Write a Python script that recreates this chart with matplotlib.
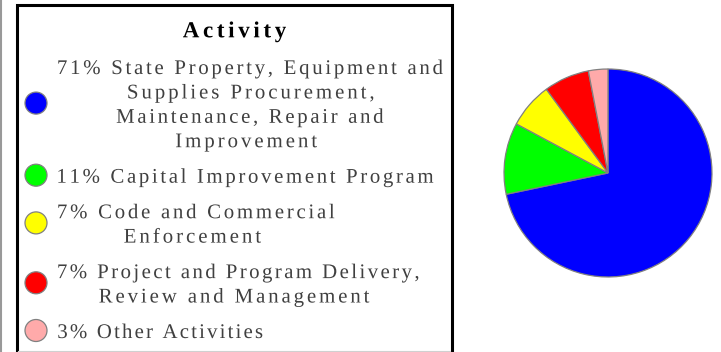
import matplotlib
matplotlib.use("Agg")
import matplotlib.pyplot as plt
from matplotlib.font_manager import FontProperties, findfont
from matplotlib.ft2font import FT2Font
from matplotlib.patches import Rectangle, Circle, PathPatch
from matplotlib.textpath import TextPath
from matplotlib.transforms import Affine2D

W, H, DPI = 721, 352, 100

# data
names = [
    "State Property, Equipment and\nSupplies Procurement,\nMaintenance, Repair and\nImprovement",
    "Capital Improvement Program",
    "Code and Commercial\nEnforcement",
    "Project and Program Delivery,\nReview and Management",
    "Other Activities",
]
shares = [71, 11, 7, 7, 3]
colors = ["#0000ff", "#00ff00", "#ffff00", "#ff0000", "#ffaaaa"]
title = "Activity"

# horizontal extent (px) of every legend line, as laid out in the picture
line_spans = [
    [(58.3, 442.7), (128.3, 373.3), (116.7, 383.3), (176, 317)],
    [(58.3, 433.3)],
    [(58.3, 334.3), (124.3, 261)],
    [(58.3, 418.3), (99.3, 369.3)],
    [(58.3, 262.3)],
]

body_fp = FontProperties(family="Liberation Serif", size=15)
title_fp = FontProperties(family="Liberation Serif", size=16.5, weight="bold")
text_color = "#404040"


def advances(s, fp):
    f = FT2Font(findfont(fp))
    f.set_size(fp.get_size_in_points(), DPI)
    return [f.load_char(ord(c)).linearHoriAdvance / 65536 for c in s]


def fit_text(ax, s, fp, left, right, baseline, color):
    # letter-spaced text drawn glyph by glyph, stretched to the given ink span
    px = fp.get_size_in_points() * DPI / 72
    adv = advances(s, fp)
    paths = [TextPath((0, 0), c, size=px, prop=fp) if c != " " else None
             for c in s]
    lb = paths[0].get_extents().x0
    rb = paths[-1].get_extents().x1
    natural = sum(adv[:-1]) + rb - lb
    sp = (right - left - natural) / (len(s) - 1)
    x = left - lb
    for p, a in zip(paths, adv):
        if p is not None:
            tr = Affine2D().scale(1, -1).translate(x, baseline) + ax.transData
            ax.add_patch(PathPatch(p, facecolor=color, lw=0, transform=tr))
        x += a + sp


fig = plt.figure(figsize=(W / DPI, H / DPI), dpi=DPI)
fig.patch.set_facecolor("white")

# background axes in pixel units, y pointing down
bg = fig.add_axes([0, 0, 1, 1])
bg.set_xlim(0, W)
bg.set_ylim(H, 0)
bg.axis("off")

bg.plot([1, 1], [0, H], color="#999999", lw=1.5, solid_capstyle="butt")
bg.add_patch(Rectangle((16.5, 4.5), 435, 420, facecolor="white",
                       edgecolor="black", lw=2.2))
bg.plot([18, 450], [350.5, 350.5], color="#d0d0d0", lw=0.8)

fit_text(bg, title, title_fp, 183, 286, 37.3, "black")

y = 74
line_h = 24.4
gap = 35.5
for share, name, col, spans in zip(shares, names, colors, line_spans):
    lines = name.split("\n")
    lines[0] = f"{share}% " + lines[0]
    ys = []
    for i, (ln, (l, r)) in enumerate(zip(lines, spans)):
        yy = y + i * line_h
        ys.append(yy)
        fit_text(bg, ln, body_fp, l, r, yy, text_color)
    cy = (ys[0] + ys[-1]) / 2 - 7.5
    bg.add_patch(Circle((36, cy), 11, facecolor=col, edgecolor="#808080", lw=0.9))
    y = ys[-1] + gap

# pie
cxp, cyp, r = 608, 173, 104.5
pax = fig.add_axes([(cxp - r) / W, (H - cyp - r) / H, 2 * r / W, 2 * r / H])
pax.pie(shares, colors=colors, startangle=90, counterclock=False,
        wedgeprops=dict(edgecolor="#808080", linewidth=0.9))
pax.set_xlim(-1.005, 1.005)
pax.set_ylim(-1.005, 1.005)
pax.set_aspect("equal")

fig.savefig("out.png", dpi=DPI, facecolor="white")
